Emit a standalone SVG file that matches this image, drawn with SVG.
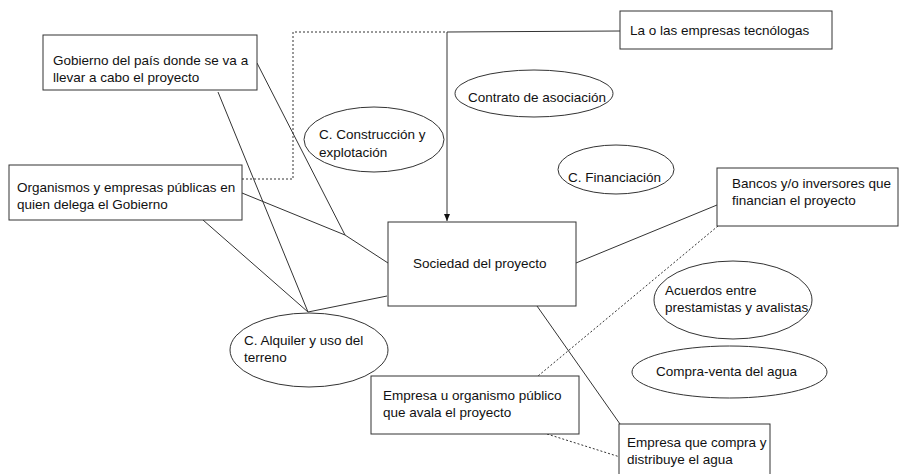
<svg xmlns="http://www.w3.org/2000/svg" width="899" height="474" viewBox="0 0 899 474">
<style>
.box{fill:#fff;stroke:#333;stroke-width:1}
.ell{fill:#fff;stroke:#333;stroke-width:1}
.t{font-family:"Liberation Sans",Arial,sans-serif;font-size:13.5px;fill:#111}
.ln{fill:none;stroke:#333;stroke-width:1}
.dl{fill:none;stroke:#333;stroke-width:1;stroke-dasharray:2,2}
</style>
<defs>
<marker id="ah" markerWidth="8" markerHeight="8" refX="7" refY="4" orient="auto" markerUnits="userSpaceOnUse">
<path d="M0,1 L7,4 L0,7 Z" fill="#111"/>
</marker>
</defs>
<rect width="899" height="474" fill="#fff"/>
<g id="connectors">
<line class="ln" x1="218" y1="92" x2="308" y2="312"/>
<line class="ln" x1="203" y1="220" x2="308" y2="312"/>
<line class="ln" x1="387" y1="296" x2="308" y2="312"/>
<line class="ln" x1="257" y1="63" x2="345" y2="235"/>
<line class="ln" x1="242" y1="193" x2="345" y2="235"/>
<line class="ln" x1="345" y1="235" x2="388" y2="263"/>
<polyline class="dl" points="242,179 293,179 293,32 447,32"/>
<line class="ln" x1="447" y1="32" x2="620" y2="31"/>
<line class="ln" x1="447" y1="32" x2="447" y2="221" marker-end="url(#ah)"/>
<line class="ln" x1="717" y1="205" x2="576" y2="263"/>
<line class="dl" x1="718" y1="226" x2="538" y2="376"/>
<line class="ln" x1="537" y1="306" x2="620" y2="424"/>
<line class="dl" x1="547" y1="434" x2="620" y2="457"/>
</g>
<g id="gobierno">
<rect class="box" x="43" y="35" width="214" height="55"/>
<text class="t" x="53" y="65">Gobierno del país donde se va a</text>
<text class="t" x="53" y="82">llevar a cabo el proyecto</text>
</g>
<g id="organismos">
<rect class="box" x="9" y="165" width="233" height="55"/>
<text class="t" x="17" y="192">Organismos y empresas públicas en</text>
<text class="t" x="17" y="209">quien delega el Gobierno</text>
</g>
<g id="tecnologas">
<rect class="box" x="620" y="11" width="212" height="38"/>
<text class="t" x="630" y="35">La o las empresas tecnólogas</text>
</g>
<g id="construccion">
<ellipse class="ell" cx="374" cy="139.5" rx="70" ry="32.5"/>
<text class="t" x="319" y="139">C. Construcción y</text>
<text class="t" x="319" y="157">explotación</text>
</g>
<g id="asociacion">
<ellipse class="ell" cx="534" cy="93.5" rx="79" ry="23.5"/>
<text class="t" x="468" y="102">Contrato de asociación</text>
</g>
<g id="financiacion">
<ellipse class="ell" cx="616" cy="169.5" rx="58" ry="24.5"/>
<text class="t" x="568" y="182">C. Financiación</text>
</g>
<g id="bancos">
<rect class="box" x="717" y="168" width="181" height="58"/>
<text class="t" x="732" y="188">Bancos y/o inversores que</text>
<text class="t" x="732" y="205">financian el proyecto</text>
</g>
<g id="sociedad">
<rect class="box" x="388" y="222" width="188" height="84"/>
<text class="t" x="413" y="268">Sociedad del proyecto</text>
</g>
<g id="acuerdos">
<ellipse class="ell" cx="733" cy="300" rx="79" ry="39"/>
<text class="t" x="665" y="295">Acuerdos entre</text>
<text class="t" x="665" y="312">prestamistas y avalistas</text>
</g>
<g id="alquiler">
<ellipse class="ell" cx="309" cy="350" rx="79" ry="37"/>
<text class="t" x="244" y="345">C. Alquiler y uso del</text>
<text class="t" x="244" y="362">terreno</text>
</g>
<g id="compraventa">
<ellipse class="ell" cx="729.5" cy="372" rx="97.5" ry="26"/>
<text class="t" x="656" y="376">Compra-venta del agua</text>
</g>
<g id="avala">
<rect class="box" x="371" y="376" width="208" height="58"/>
<text class="t" x="383" y="400">Empresa u organismo público</text>
<text class="t" x="383" y="417">que avala el proyecto</text>
</g>
<g id="distribuye">
<rect class="box" x="619" y="424" width="151" height="60"/>
<text class="t" x="627" y="447">Empresa que compra y</text>
<text class="t" x="627" y="464">distribuye el agua</text>
</g>
</svg>
